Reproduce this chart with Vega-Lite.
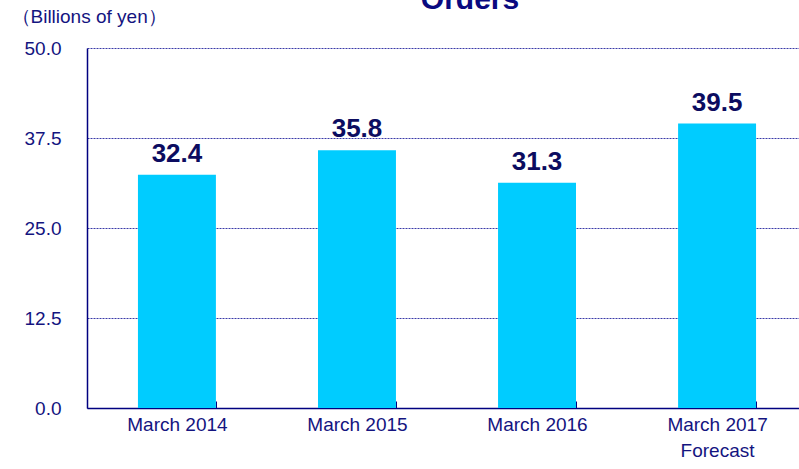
{
  "$schema": "https://vega.github.io/schema/vega-lite/v6.json",
  "autosize": {"type": "none"},
  "padding": {"left": 87, "top": 48, "right": 0, "bottom": 61},
  "width": 712,
  "height": 360,
  "background": "white",
  "title": {
    "text": "Orders",
    "font": "Liberation Sans",
    "fontSize": 30,
    "fontWeight": "bold",
    "color": "#0a0a80",
    "anchor": "middle",
    "frame": "group",
    "dx": 27,
    "dy": 32,
    "baseline": "alphabetic",
    "offset": 0
  },
  "config": {
    "view": {"stroke": null},
    "font": "Liberation Sans"
  },
  "data": {
    "values": [
      {"period": "March 2014", "value": 32.4},
      {"period": "March 2015", "value": 35.8},
      {"period": "March 2016", "value": 31.3},
      {"period": "March 2017 Forecast", "value": 39.5}
    ]
  },
  "encoding": {
    "x": {
      "field": "period",
      "type": "nominal",
      "sort": null,
      "scale": {"range": [0, 720], "paddingInner": 0.567, "paddingOuter": 0.283},
      "axis": {
        "title": null,
        "labelAngle": 0,
        "labelFont": "Liberation Sans",
        "labelFontSize": 19,
        "labelColor": "#14147f",
        "labelBaseline": "alphabetic",
        "labelPadding": 29,
        "labelLineHeight": 26,
        "labelExpr": "datum.value == 'March 2017 Forecast' ? ['March 2017', 'Forecast'] : datum.value",
        "domainColor": "#000080",
        "domainWidth": 1.5,
        "tickBand": "extent",
        "tickSize": -7,
        "tickColor": "#000080",
        "tickWidth": 1,
        "grid": false
      }
    }
  },
  "layer": [
    {
      "mark": {"type": "bar", "color": "#00CCFF"},
      "encoding": {
        "y": {
          "field": "value",
          "type": "quantitative",
          "scale": {"domain": [0, 50], "nice": false},
          "axis": {
            "title": "（Billions of yen）",
            "titleAngle": 0,
            "titleX": -76,
            "titleY": -26,
            "titleAlign": "left",
            "titleBaseline": "alphabetic",
            "titleFont": "Liberation Sans",
            "titleFontSize": 19,
            "titleFontWeight": "normal",
            "titleColor": "#14147f",
            "values": [0, 12.5, 25, 37.5, 50],
            "format": ".1f",
            "labelFont": "Liberation Sans",
            "labelFontSize": 19,
            "labelColor": "#14147f",
            "labelPadding": 26,
            "ticks": false,
            "domainColor": "#000080",
            "domainWidth": 1.5,
            "grid": true,
            "gridColor": "#3a3aa8",
            "gridDash": [2, 1],
            "gridWidth": 1
          }
        }
      }
    },
    {
      "mark": {"type": "text", "fontSize": 26, "fontWeight": "bold", "color": "#0c0c60", "dy": -13, "baseline": "alphabetic"},
      "encoding": {
        "y": {"field": "value", "type": "quantitative"},
        "text": {"field": "value", "type": "quantitative", "format": ".1f"}
      }
    }
  ]
}
